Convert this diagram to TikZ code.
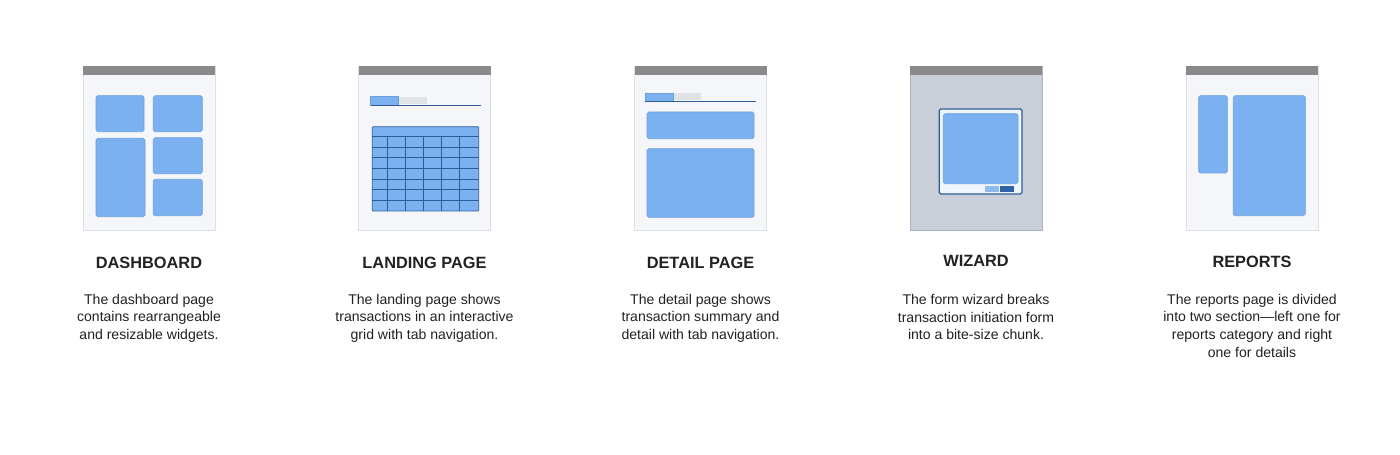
\documentclass[tikz,border=0pt]{standalone}
\usepackage{fontspec}
\setmainfont{Liberation Sans}
\usetikzlibrary{positioning}
\definecolor{framefill}{HTML}{F4F6F9}
\definecolor{frameline}{HTML}{DCDFE4}
\definecolor{bargray}{HTML}{8A8A8A}
\definecolor{bluefill}{HTML}{7BB1F1}
\definecolor{blueline}{HTML}{6C9FDD}
\definecolor{gridline}{HTML}{2F5C97}
\definecolor{tabgray}{HTML}{E0E2E5}
\definecolor{wizardbg}{HTML}{C9CFD9}
\definecolor{wizardline}{HTML}{AEB5C1}
\definecolor{dialogfill}{HTML}{EEF5FC}
\definecolor{darkbtn}{HTML}{2F63A8}
\definecolor{lightbtn}{HTML}{8EBAEC}
\definecolor{textdark}{HTML}{222222}
\tikzset{
    page/.style={draw=frameline, fill=framefill, line width=0.5pt},
    topbar/.style={fill=bargray},
    widget/.style={draw=blueline, fill=bluefill, rounded corners=1pt, line width=0.4pt},
    tabline/.style={draw=gridline, line width=0.6pt},
    title/.style={font=\bfseries\fontsize{9.3}{11}\selectfont, text=textdark, inner sep=0pt},
    caption/.style={font=\fontsize{8}{10.1}\selectfont, text=textdark, align=center, inner sep=0pt}
}

\begin{document}
\begin{tikzpicture}[x=0.02cm, y=-0.02cm]
    \fill[white] (0,0) rectangle (1400,455);
    \useasboundingbox (0,0) rectangle (1400,455);

    % Dashboard
    \begin{scope}[shift={(83,0)}]
        \draw[page] (0,66) rectangle (132,230);
        \fill[topbar] (0,66) rectangle (132,75.5);
        \draw[widget] (13,95.7) rectangle (61,131.7);
        \draw[widget] (70.3,95.7) rectangle (119.3,131.7);
        \draw[widget] (13,138.3) rectangle (62,216.7);
        \draw[widget] (70.3,137.7) rectangle (119.3,173.7);
        \draw[widget] (70.3,179.3) rectangle (119.3,215.7);
        \node[title] (dash-title) at (66,263) {DASHBOARD};
        \node[caption, below=0.49cm of dash-title] (dash-text) {The dashboard page\\contains rearrangeable\\and resizable widgets.};
    \end{scope}

    % Landing page
    \begin{scope}[shift={(358.5,0)}]
        \draw[page] (0,66) rectangle (132,230);
        \fill[topbar] (0,66) rectangle (132,75.5);
        \fill[tabgray] (39.8,96.7) rectangle (68.2,103.7);
        \draw[widget, rounded corners=0pt] (12.2,96.7) rectangle (39.8,105.3);
        \draw[tabline] (12.2,105.3) -- (122.5,105.3);
        \draw[widget, draw=gridline, rounded corners=0.5pt] (13.8,126.7) rectangle (120.2,211);
        \foreach \r in {0,...,6}
            \draw[gridline, line width=0.5pt] (13.8,136.7+\r*10.6) -- (120.2,136.7+\r*10.6);
        \foreach \c in {28.8,46.8,65.2,83.2,101.2}
            \draw[gridline, line width=0.5pt] (\c,136.7) -- (\c,211);
        \node[title] (land-title) at (66,263) {LANDING PAGE};
        \node[caption, below=0.49cm of land-title] (land-text) {The landing page shows\\transactions in an interactive\\grid with tab navigation.};
    \end{scope}

    % Detail page
    \begin{scope}[shift={(634.5,0)}]
        \draw[page] (0,66) rectangle (132,230);
        \fill[topbar] (0,66) rectangle (132,75.5);
        \fill[tabgray] (38.8,93.3) rectangle (66.5,100);
        \draw[widget, rounded corners=0pt] (10.8,93.3) rectangle (38.8,101.5);
        \draw[tabline] (10.8,101.5) -- (121.5,101.5);
        \draw[widget] (12.5,112) rectangle (119.5,138.7);
        \draw[widget] (12.5,148.7) rectangle (119.5,217.3);
        \node[title] (detail-title) at (66,263) {DETAIL PAGE};
        \node[caption, below=0.49cm of detail-title] (detail-text) {The detail page shows\\transaction summary and\\detail with tab navigation.};
    \end{scope}

    % Wizard
    \begin{scope}[shift={(910,0)}]
        \draw[page, fill=wizardbg, draw=wizardline] (0,66) rectangle (132,230);
        \fill[topbar] (0,66) rectangle (132,75.5);
        \draw[fill=dialogfill, draw=gridline, line width=0.7pt, rounded corners=0.8pt] (29.3,109) rectangle (112,194);
        \draw[widget] (33.3,113.7) rectangle (108,183.7);
        \fill[lightbtn] (75,186.3) rectangle (88.7,191.7);
        \fill[darkbtn] (90.3,186.3) rectangle (103.7,191.7);
        \node[title] (wizard-title) at (66,261) {WIZARD};
        \node[caption, below=0.54cm of wizard-title] (wizard-text) {The form wizard breaks\\transaction initiation form\\into a bite-size chunk.};
    \end{scope}

    % Reports
    \begin{scope}[shift={(1186,0)}]
        \draw[page] (0,66) rectangle (132,230);
        \fill[topbar] (0,66) rectangle (132,75.5);
        \draw[widget] (12.7,95.7) rectangle (41.3,173);
        \draw[widget] (47.3,95.7) rectangle (119.3,215.7);
        \node[title] (report-title) at (66,262) {REPORTS};
        \node[caption, below=0.51cm of report-title] (report-text) {The reports page is divided\\into two section\textemdash left one for\\reports category and right\\one for details};
    \end{scope}
\end{tikzpicture}
\end{document}
